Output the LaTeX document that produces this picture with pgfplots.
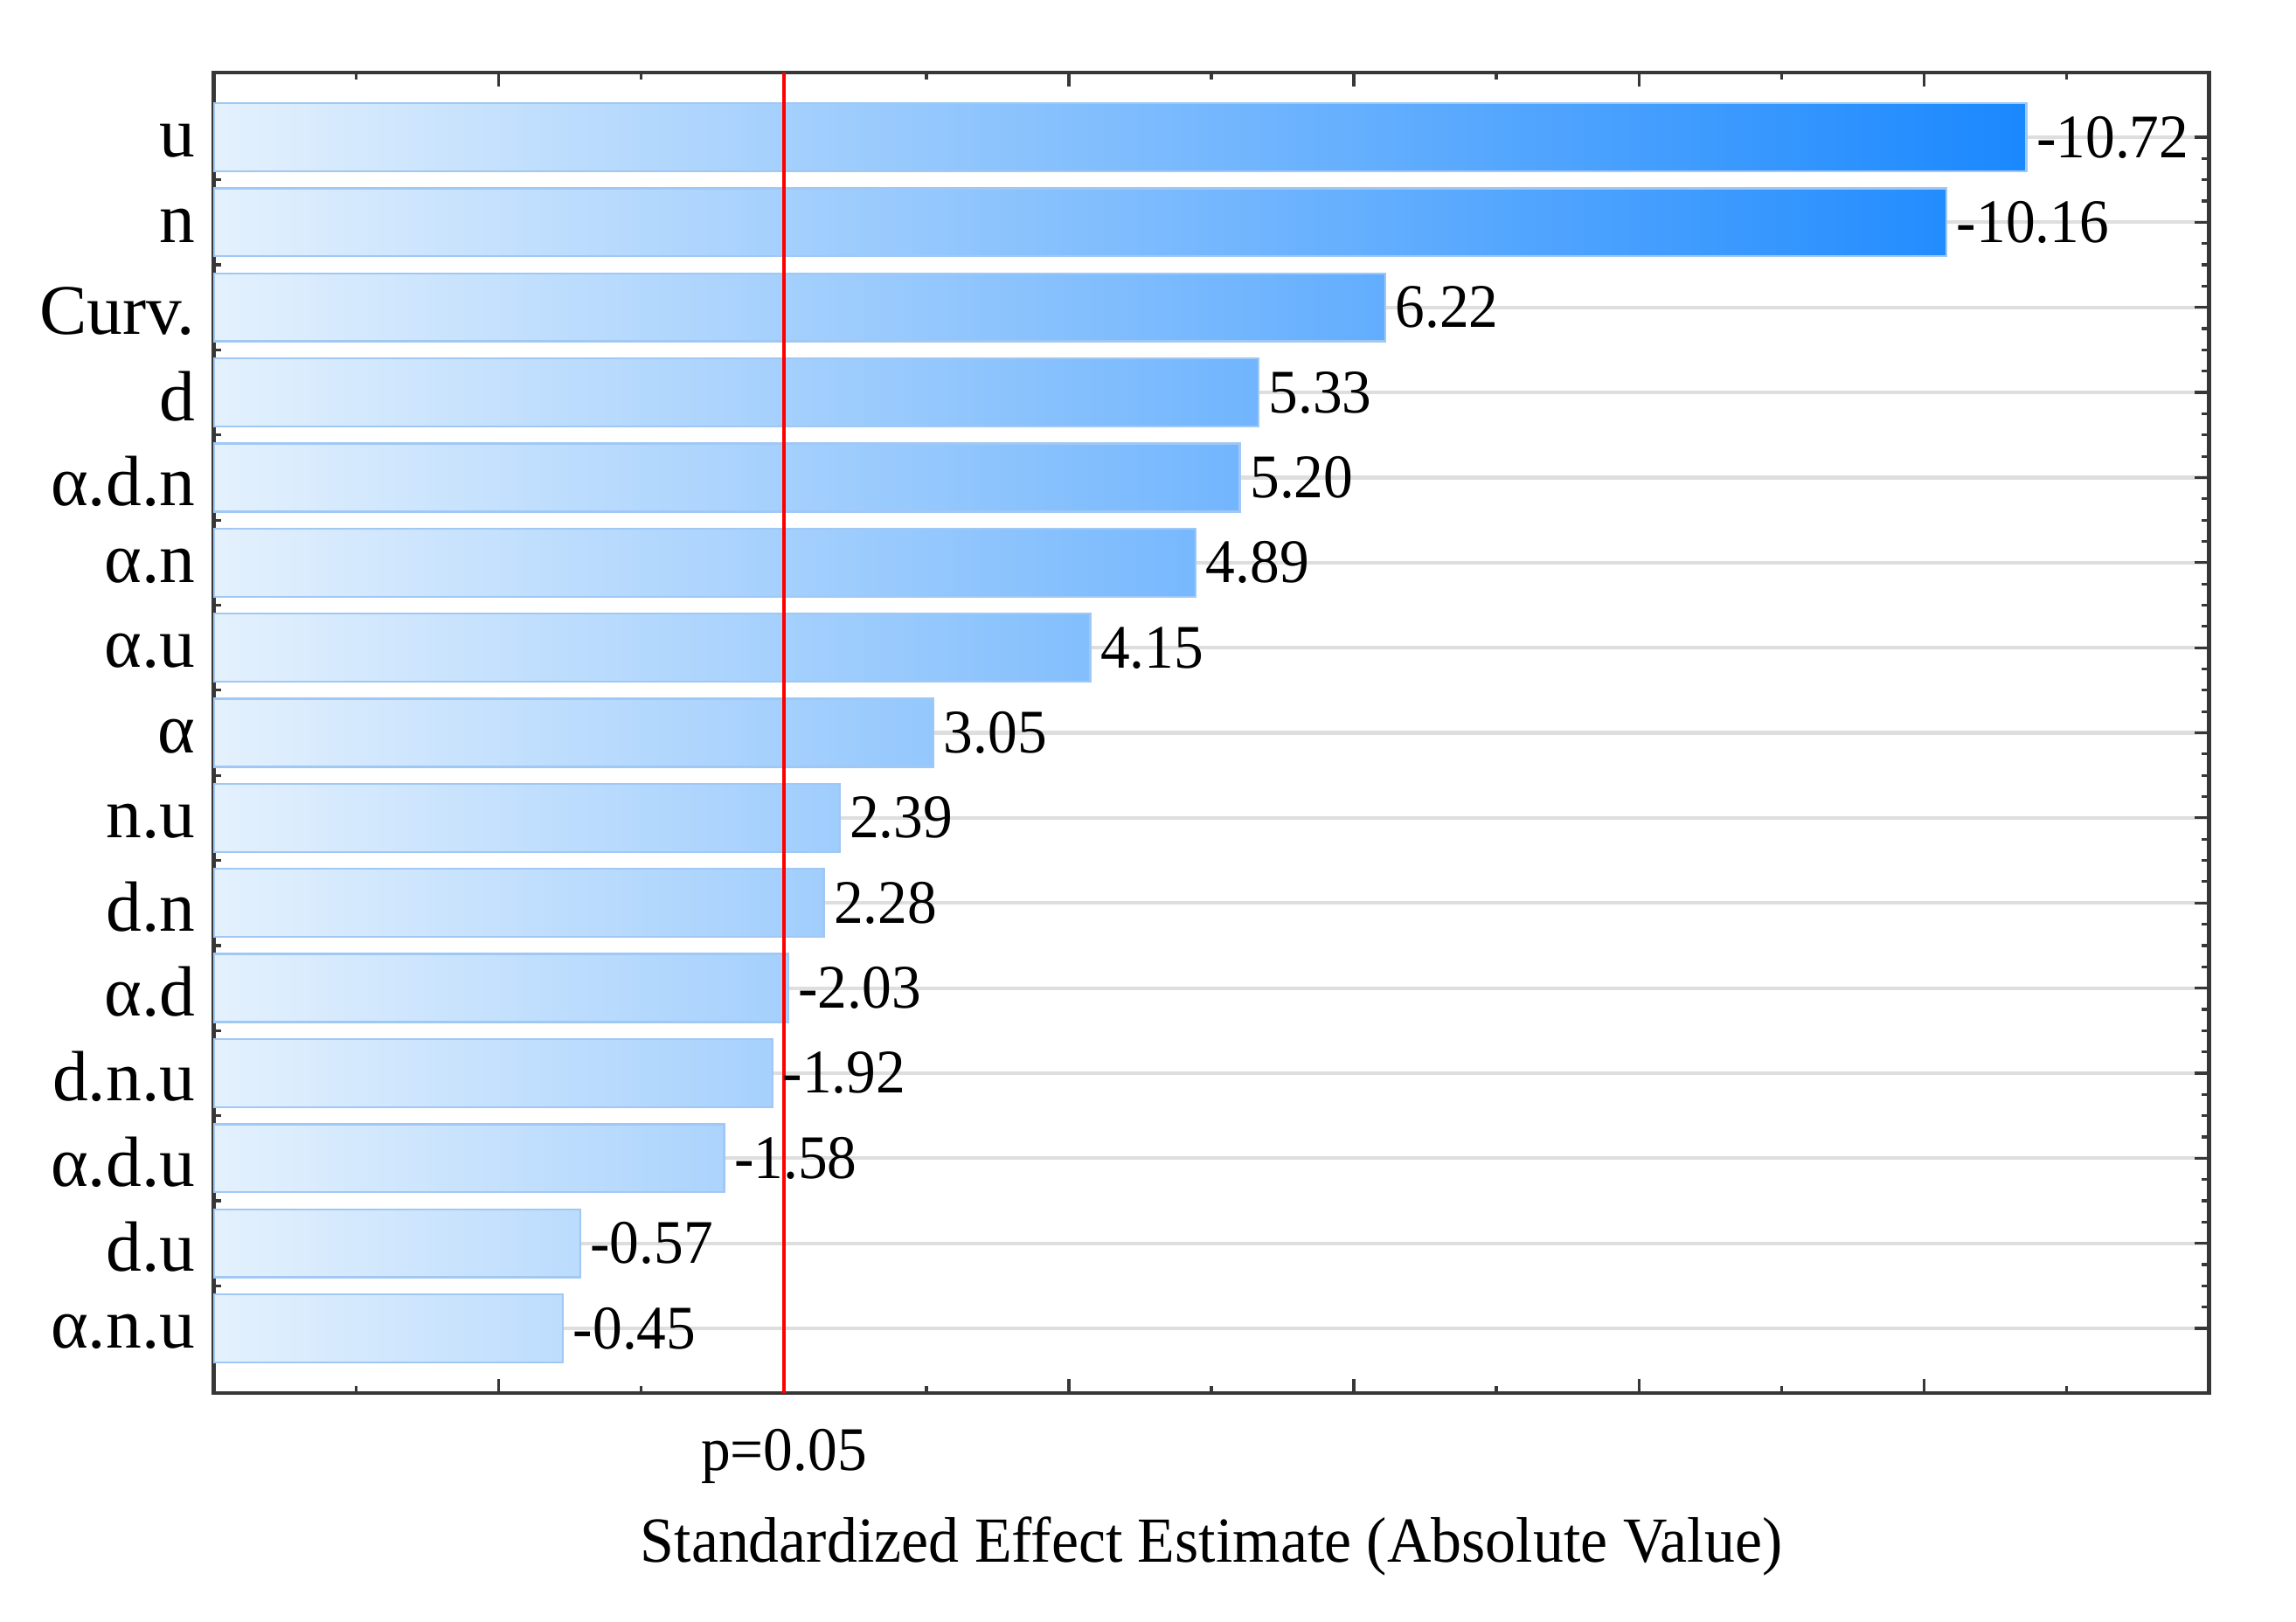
\documentclass[border=0pt]{standalone}
\usepackage{fontspec}
\setmainfont{Liberation Serif}[FakeStretch=0.95]
\newfontfamily\ylabfont{Liberation Serif}
\usepackage{pgfplots}
\pgfplotsset{compat=1.18}
\definecolor{barlight}{RGB}{228,241,253}
\definecolor{bardark}{RGB}{26,136,254}
\definecolor{bargrid}{RGB}{222,222,222}
\definecolor{baredge}{RGB}{160,200,245}
\definecolor{axisdark}{RGB}{55,55,55}
\pgfplotsset{
  layers/mylayers/.define layer set={axis background,axis grid,main,axis ticks,axis lines,axis tick labels,axis descriptions,axis foreground}{},
}
% #1 = row (0 = bottom), #2 = |effect|, #3 = gradient end percent, #4 = printed estimate
\newcommand{\effbar}[4]{%
  \addplot[xbar, bar shift=0pt, bar width=0.8, draw=baredge, line width=0.45pt,
    left color=barlight, right color=bardark!#3!barlight,
    x filter/.expression={x+2},
    nodes near coords={#4},
    every node near coord/.append style={anchor=west, inner sep=2pt, text=black, font=\fontsize{13.5}{15}\selectfont}]
    coordinates {(#2,#1)};}
\begin{document}
\begin{tikzpicture}
\begin{axis}[
  set layers=mylayers,
  at={(0,0)}, anchor=south west,
  scale only axis, width=434.4pt, height=287.6pt,
  xmin=0, xmax=14, ymin=-0.76, ymax=14.76,
  xtick={0,2,...,14}, xticklabels={}, minor x tick num=1,
  ytick={0,...,14}, minor y tick num=3,
  yticklabels={α.n.u, d.u, α.d.u, d.n.u, α.d, d.n, n.u, α, α.u, α.n, α.d.n, d, Curv., n, u},
  yticklabel style={font=\ylabfont\fontsize{15.5}{18}\selectfont, text=black, yshift=-0.8pt, xshift=-0.6pt},
  tick align=inside,
  major tick length=3pt, minor tick length=1.6pt,
  every tick/.style={axisdark, line width=0.6pt},
  axis line style={axisdark, line width=0.9pt},
  ymajorgrids, major grid style={bargrid, line width=0.8pt},
  clip=false,
]
\effbar{14}{10.72}{100}{-10.72}
\effbar{13}{10.16}{95.6}{-10.16}
\effbar{12}{6.22}{64.6}{6.22}
\effbar{11}{5.33}{57.6}{5.33}
\effbar{10}{5.20}{56.6}{5.20}
\effbar{9}{4.89}{54.2}{4.89}
\effbar{8}{4.15}{48.3}{4.15}
\effbar{7}{3.05}{39.7}{3.05}
\effbar{6}{2.39}{34.5}{2.39}
\effbar{5}{2.28}{33.6}{2.28}
\effbar{4}{2.03}{31.7}{-2.03}
\effbar{3}{1.92}{30.8}{-1.92}
\effbar{2}{1.58}{28.1}{-1.58}
\effbar{1}{0.57}{20.2}{-0.57}
\effbar{0}{0.45}{19.3}{-0.45}
\addplot[red, line width=0.6pt] coordinates {(4,-0.76) (4,14.76)};
\node[anchor=base, font=\fontsize{13.5}{15}\selectfont] at (axis cs:4,-0.76) [yshift=-16.9pt] {p=0.05};
\node[anchor=base, font=\fontsize{14}{16}\selectfont] at (rel axis cs:0.5,0) [yshift=-36.9pt] {Standardized Effect Estimate (Absolute Value)};
\end{axis}
\path (-46.6pt,-49.7pt) rectangle (453.4pt,303.4pt);
\end{tikzpicture}
\end{document}
